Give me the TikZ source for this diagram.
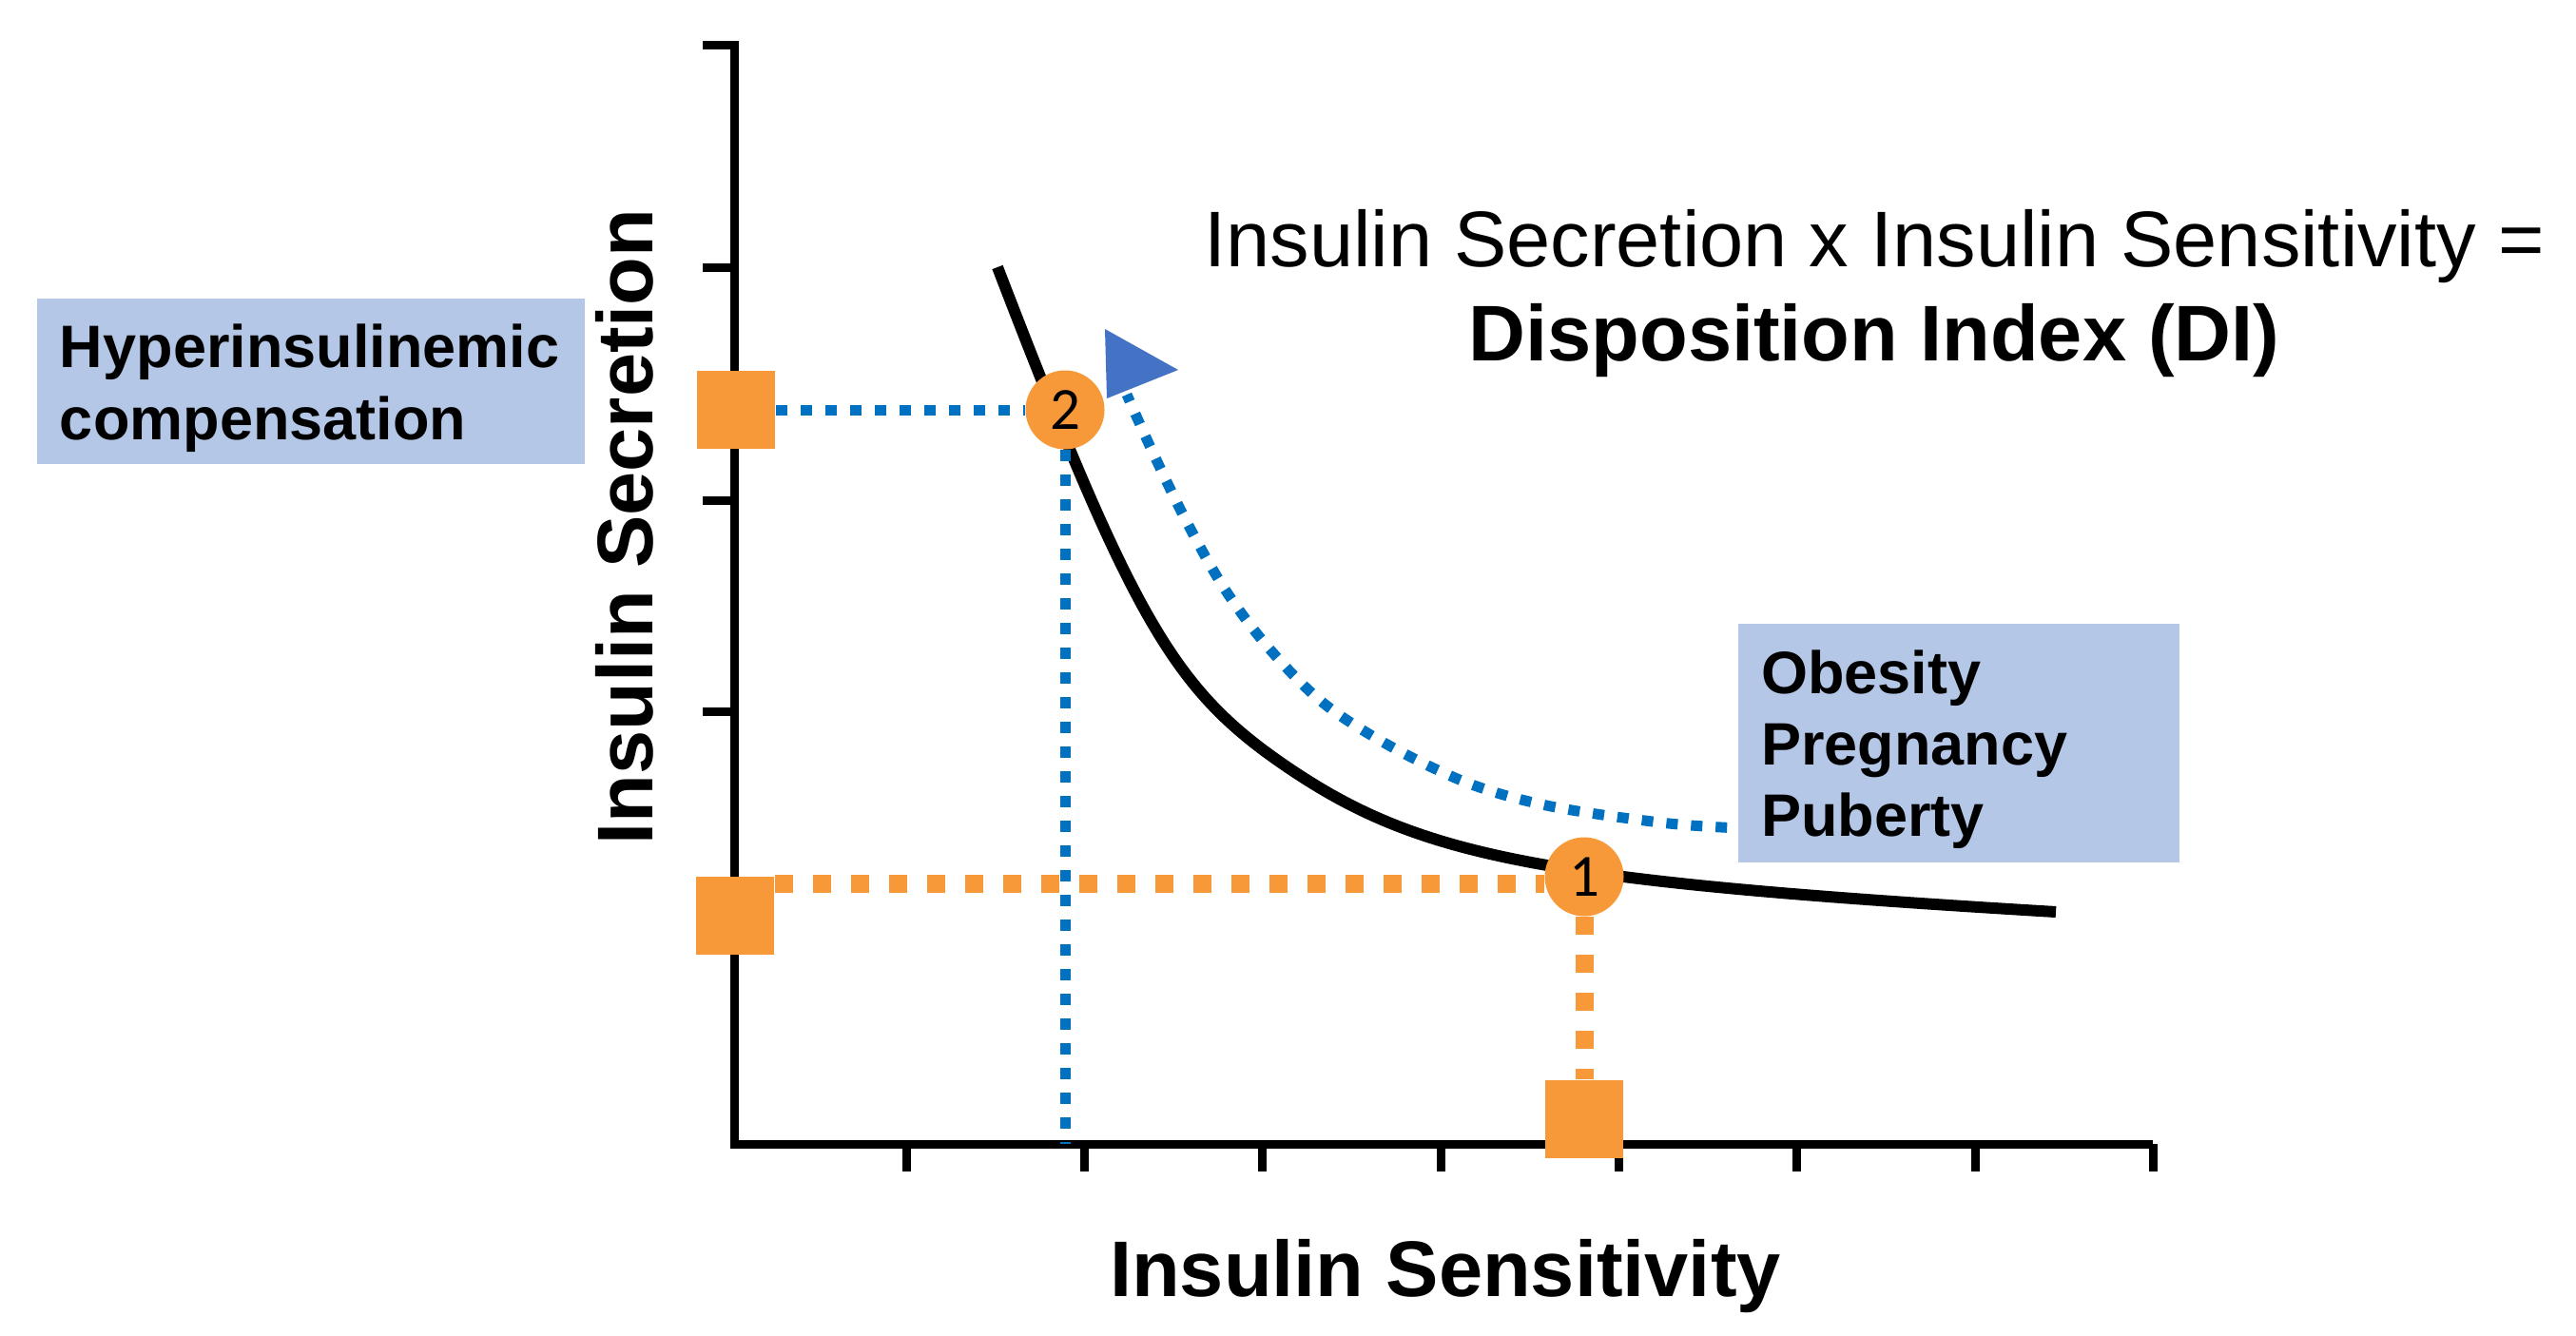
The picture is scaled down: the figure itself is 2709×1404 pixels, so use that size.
\documentclass[tikz,border=0pt]{standalone}
\usepackage{fontspec}
\setmainfont{Liberation Sans}
\newfontfamily\numfont{Carlito}
\usetikzlibrary{arrows,positioning}

\definecolor{boxblue}{RGB}{180,199,231}
\definecolor{dotblue}{RGB}{0,112,192}
\definecolor{tipblue}{RGB}{68,114,196}
\definecolor{dotorange}{RGB}{247,153,56}

\begin{document}
\begin{tikzpicture}[x=0.25pt,y=-0.25pt,
  axis/.style={line width=2.25pt},
  lbl/.style={font=\fontsize{20.75}{25}\selectfont\bfseries, inner sep=0pt},
  ttl/.style={font=\fontsize{20.75}{25}\selectfont, inner sep=0pt},
  infobox/.style={fill=boxblue, font=\fontsize{15.75}{18.8}\selectfont\bfseries, align=left},
  marker/.style={fill=dotorange, minimum size=20.5pt, inner sep=0pt},
  point/.style={circle, fill=dotorange, minimum size=20.75pt, inner sep=0pt, font=\numfont\fontsize{15.75}{18}\selectfont},
  bluedots/.style={dotblue, line width=2.75pt, dash pattern=on 3pt off 3.5pt},
  orangedots/.style={dotorange, line width=4.75pt, dash pattern=on 4.75pt off 5.25pt}]
\useasboundingbox (0,0) rectangle (2709,1404);

% axes
\coordinate (o) at (772,1203);
\draw[axis] (739,47) -- (772,47) -- (o) -- (2264,1203);
\foreach \y in {281,526,748} \draw[axis] (739,\y) -- (772,\y);
\foreach \x in {953,1140,1327,1515,1702,1889,2077,2264} \draw[axis] (\x,1203) -- (\x,1232);

% hyperbola
\draw[line width=3pt] (1049,281) .. controls (1189,645) and (1233,722) .. (1344,800)
  .. controls (1490,902) and (1613,926) .. (2162,959);

% markers and points
\node[marker] (sq2) at (774,431) {};
\node[marker] (sq1) at (773,963) {};
\node[marker] (sqx) at (1666,1177) {};
\node[point] (c2) at (1120,431) {2};
\node[point] (c1) at (1666,922) {1};

% boxes
\node[infobox, text width=132pt, inner xsep=6pt, minimum height=43.25pt] (hyper) at (327,401) {\rule{0pt}{15pt}Hyperinsulinemic\\compensation};
\node[infobox, text width=104pt, inner xsep=6pt, minimum height=62.75pt] (obes) at (2060,781) {\rule{0pt}{15pt}Obesity\\Pregnancy\\Puberty};

% guide lines
\coordinate (oline) at ([yshift=-2pt]sq1.north east);
\draw[orangedots] (oline) -- (oline -| c1.west);
\draw[orangedots] (c1.south) -- (sqx.north);
\draw[bluedots] (sq2.east) -- (c2.west);
\draw[bluedots] (c2.south) -- (c2.south |- o);

% shift arrow
\draw[bluedots] plot[smooth, tension=0.55] coordinates {([xshift=-2.75pt,yshift=9.25pt]obes.south west) (1746,865) (1631,848) (1545,824) (1459,783) (1390,738) (1333,680) (1287,618) (1247,547) (1212,475) (1185,415)};
\fill[tipblue] (1162,346) -- (1239,389) -- (1164,419) -- cycle;

% labels
\node[ttl, anchor=base] (title) at (1971,280) {Insulin Secretion x Insulin Sensitivity =};
\node[lbl, anchor=base] (di) at (1971,379) {Disposition Index (DI)};
\node[lbl, anchor=base] (xlab) at (1520,1363) {Insulin Sensitivity};
\node[lbl, anchor=base, rotate=90] (ylab) at (686,554) {Insulin Secretion};
\end{tikzpicture}
\end{document}
